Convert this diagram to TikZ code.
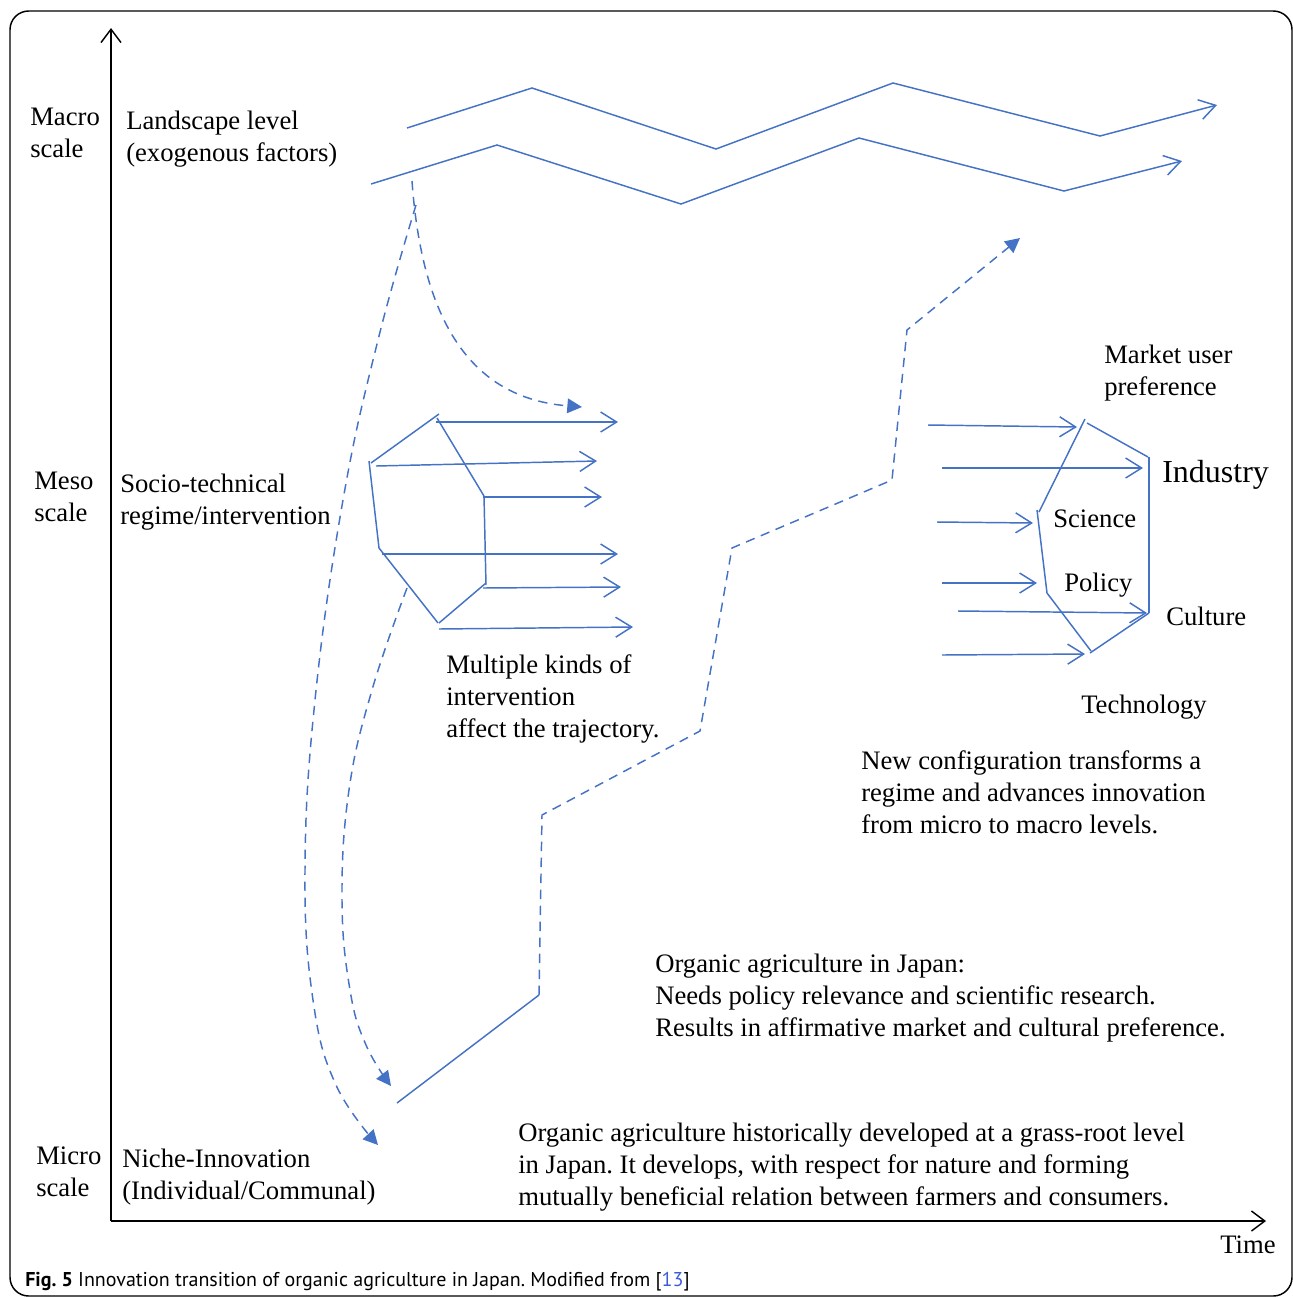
\documentclass[tikz,border=0pt]{standalone}
\usepackage{fontspec}
\setmainfont{Liberation Serif}
\newfontfamily\capfont{PT Sans}
\usetikzlibrary{arrows.meta}
\definecolor{myblue}{HTML}{4472C4}
\definecolor{linkblue}{HTML}{3B5BDB}
\frenchspacing
\tikzset{
  blu/.style={draw=myblue, line width=1.1pt, line join=miter},
  barb/.style={blu, -{Straight Barb[length=12pt,width=15pt,line width=1.1pt]}},
  dsh/.style={draw=myblue, line width=1.1pt, dash pattern=on 7pt off 5pt},
  tri/.style={-{Triangle[length=11pt,width=11pt,fill=myblue]}},
  axis/.style={draw=black, line width=1.1pt, -{Straight Barb[length=10pt,width=15pt,line width=1.1pt]}},
  txt/.style={anchor=base west, inner sep=0pt, align=left, font=\fontsize{20pt}{24pt}\selectfont\frenchspacing},
}
\begin{document}
\begin{tikzpicture}[x=0.75pt,y=-0.75pt]
\useasboundingbox (0,0) rectangle (1293,1297);
% frame
\draw[line width=1.1pt, rounded corners=14pt] (10,11) rectangle (1292,1296);
% axes
\coordinate (O) at (111,1221);
\coordinate (Ytop) at (111,28);
\coordinate (Xend) at (1266,1221);
\draw[axis] (O) -- (Ytop);
\draw[axis] (O) -- (Xend);

% landscape lines
\draw[barb] (407,128) -- (532,88) -- (716,149) -- (893,83) -- (1100,136) -- (1217,105);
\draw[barb] (371,184) -- (497,145) -- (681,204) -- (859,138) -- (1064,191) -- (1182,161);

% left cluster (regime)
\coordinate (L1) at (437,418);
\coordinate (L2) at (371,463);
\coordinate (L3) at (379,548);
\coordinate (L4) at (438,623);
\coordinate (L5) at (486,583);
\coordinate (L6) at (484,496);
\draw[blu] (439,414) -- (L2);
\draw[blu] (369,461) -- (L3);
\draw[blu] (L3) -- (L4);
\draw[blu] (439,623) -- (L5);
\draw[blu] (L6) -- (486,585);
\draw[blu] (L1) -- (L6);
\draw[barb] (436,422) -- (618,422);
\draw[barb] (376,466) -- (597,461);
\draw[barb] (483,497) -- (602,497);
\draw[barb] (382,554) -- (618,554);
\draw[barb] (483,588) -- (621,587);
\draw[barb] (439,629) -- (633,627);

% right cluster (new configuration)
\draw[blu] (1085,419) -- (1039,512);
\draw[blu] (1087,423) -- (1148,457);
\draw[blu] (1149,457) -- (1149,613);
\draw[blu] (1149,613) -- (1090,653);
\draw[blu] (1091,651) -- (1047,593);
\draw[blu] (1047,593) -- (1037,510);
\draw[barb] (928,425) -- (1077,427);
\draw[barb] (942,468) -- (1143,468);
\draw[barb] (937,522) -- (1033,523);
\draw[barb] (942,583) -- (1037,583);
\draw[barb] (958,611) -- (1147,613);
\draw[barb] (942,655) -- (1085,654);

% dashed curves
\draw[dsh, tri] (412,181) .. controls (422,320) and (470,398) .. (582,407);
\draw[dsh, tri] plot[smooth, tension=0.7] coordinates {(416,205) (378,340) (343,500) (315,700) (305,870) (313,1000) (336,1085) (378,1145)};
\draw[dsh, tri] plot[smooth, tension=0.7] coordinates {(407,588) (372,690) (349,790) (342,900) (350,990) (366,1045) (391,1086)};

% trajectory
\coordinate (T0) at (397,1103);
\coordinate (T1) at (539,995);
\draw[blu] (T0) -- (T1);
\draw[dsh, tri] (T1) -- (542,815) -- (700,731) -- (732,548) -- (892,480) -- (907,330) -- (1020,238);

% texts (base = baseline of last line)
\node[txt] (macro) at (30,157) {Macro\\scale};
\node[txt] (land) at (126,161) {Landscape level\\(exogenous factors)};
\node[txt] (meso) at (34,521) {Meso\\scale};
\node[txt] (socio) at (120,524) {Socio-technical\\regime/intervention};
\node[txt] (micro) at (36,1196) {Micro\\scale};
\node[txt] (niche) at (122,1199) {Niche-Innovation\\(Individual/Communal)};
\node[txt] (mult) at (446,737) {Multiple kinds of\\intervention\\affect the trajectory.};
\node[txt] (market) at (1104,395) {Market user\\preference};
\node[txt, font=\fontsize{24pt}{28pt}\selectfont] (industry) at (1162,482) {Industry};
\node[txt] (science) at (1053,527) {Science};
\node[txt] (policy) at (1064,591) {Policy};
\node[txt] (culture) at (1166,625) {Culture};
\node[txt] (techn) at (1081,713) {Technology};
\node[txt] (newconf) at (861,833) {New configuration transforms a\\regime and advances innovation\\from micro to macro levels.};
\node[txt] (oaj) at (655,1036) {Organic agriculture in Japan:\\Needs policy relevance and scientific research.\\Results in affirmative market and cultural preference.};
\node[txt] (oah) at (518,1205) {Organic agriculture historically developed at a grass-root level\\in Japan. It develops, with respect for nature and forming\\mutually beneficial relation between farmers and consumers.};
\node[txt] (time) at (1220,1253) {Time};
\node[anchor=base west, inner sep=0pt, font=\capfont\fontsize{15pt}{18pt}\selectfont\frenchspacing] (cap) at (25,1286) {\textbf{Fig. 5} Innovation transition of organic agriculture in Japan. Modified from [\textcolor{linkblue}{13}]};
\end{tikzpicture}
\end{document}
